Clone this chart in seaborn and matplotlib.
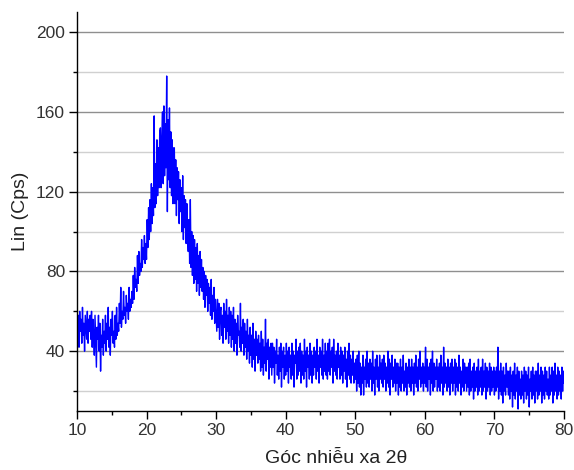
import numpy as np
import pandas as pd
import matplotlib
matplotlib.use("Agg")
import matplotlib.pyplot as plt
import seaborn as sns
from matplotlib.ticker import MultipleLocator

# 2-theta from 10 to 80 in 0.1 degree steps (701 points)
two_theta_start = 10.0
two_theta_step = 0.1

intensity = [
    70, 48, 58, 42, 60, 50, 56, 44, 62, 48,   54, 40, 58, 52, 46, 60, 44, 56, 50, 58,
    46, 60, 42, 56, 48, 38, 58, 44, 32, 52,   46, 58, 40, 54, 30, 48, 42, 56, 38, 50,
    44, 58, 40, 54, 46, 62, 42, 52, 38, 56,   48, 60, 44, 50, 42, 58, 46, 62, 48, 54,
    50, 64, 54, 72, 52, 60, 56, 70, 58, 62,   54, 68, 60, 64, 56, 72, 60, 66, 62, 70,
    64, 78, 66, 82, 72, 76, 70, 88, 74, 90,   78, 84, 80, 96, 82, 92, 86, 98, 84, 94,
    86, 106, 92, 112, 96, 116, 100, 124, 104, 122,   108, 158, 112, 134, 114, 146, 118, 142, 122, 150,
    152, 122, 146, 160, 124, 163, 128, 154, 132, 178,   110, 156, 126, 162, 122, 150, 118, 146, 114, 142,
    142, 114, 136, 108, 132, 116, 130, 104, 126, 110,   122, 100, 128, 96, 118, 102, 116, 94, 114, 98,
    90, 106, 84, 116, 82, 100, 78, 98, 74, 96,   76, 92, 70, 94, 74, 88, 68, 90, 72, 86,
    70, 82, 66, 80, 62, 78, 68, 76, 60, 74,   64, 72, 58, 76, 56, 68, 60, 72, 54, 66,
    58, 50, 66, 52, 64, 46, 60, 62, 48, 58,   44, 64, 52, 60, 46, 66, 50, 58, 44, 62,
    48, 60, 42, 58, 46, 62, 40, 56, 44, 54,   38, 58, 48, 50, 42, 64, 40, 52, 44, 56,
    38, 54, 42, 50, 36, 56, 40, 48, 34, 52,   38, 48, 32, 54, 36, 46, 30, 50, 38, 46,
    34, 48, 36, 44, 30, 50, 32, 46, 28, 42,   34, 56, 30, 44, 36, 46, 26, 42, 32, 44,
    28, 44, 32, 42, 24, 40, 34, 46, 28, 38,   26, 42, 30, 44, 22, 40, 32, 42, 26, 38,
    28, 44, 30, 40, 24, 42, 32, 38, 26, 44,   28, 40, 22, 38, 34, 46, 26, 40, 28, 42,
    30, 44, 24, 40, 28, 38, 26, 46, 30, 40,   22, 42, 32, 38, 26, 44, 28, 40, 24, 38,
    28, 42, 32, 40, 26, 46, 30, 38, 24, 42,   32, 40, 28, 46, 26, 38, 30, 44, 28, 40,
    26, 44, 30, 46, 28, 40, 32, 42, 24, 46,   30, 38, 28, 40, 26, 44, 32, 38, 26, 42,
    28, 40, 24, 38, 30, 42, 26, 36, 22, 40,   28, 44, 26, 38, 24, 36, 28, 40, 24, 34,
    26, 36, 20, 38, 24, 40, 22, 34, 18, 32,   24, 38, 18, 32, 26, 36, 22, 40, 24, 34,
    22, 36, 26, 34, 20, 40, 24, 32, 18, 36,   26, 38, 22, 32, 20, 38, 26, 34, 24, 36,
    22, 38, 26, 34, 20, 32, 24, 40, 22, 36,   18, 34, 26, 38, 22, 32, 24, 36, 20, 34,
    24, 34, 18, 32, 22, 36, 20, 32, 24, 38,   20, 30, 22, 34, 18, 32, 24, 36, 22, 32,
    20, 36, 24, 32, 18, 34, 24, 38, 22, 32,   20, 36, 26, 40, 22, 32, 24, 34, 20, 32,
    24, 42, 22, 36, 20, 32, 26, 34, 18, 36,   24, 40, 20, 34, 22, 32, 26, 36, 20, 32,
    22, 34, 20, 38, 24, 32, 18, 42, 22, 34,   24, 32, 20, 36, 22, 32, 18, 34, 24, 36,
    20, 32, 24, 36, 18, 34, 22, 32, 20, 38,   24, 32, 18, 30, 22, 36, 20, 34, 24, 32,
    20, 32, 22, 34, 18, 36, 20, 30, 22, 32,   16, 34, 20, 30, 22, 32, 18, 36, 20, 30,
    22, 32, 18, 36, 20, 30, 22, 34, 16, 32,   20, 30, 22, 34, 18, 32, 20, 30, 22, 32,
    18, 30, 20, 32, 22, 42, 16, 30, 20, 34,   18, 30, 14, 32, 20, 28, 18, 34, 22, 30,
    18, 30, 16, 32, 20, 28, 12, 30, 18, 34,   16, 28, 20, 32, 11, 30, 18, 26, 16, 30,
    18, 28, 14, 32, 20, 30, 16, 28, 18, 32,   12, 26, 20, 30, 16, 32, 18, 28, 14, 30,
    20, 30, 16, 34, 18, 28, 20, 32, 14, 30,   18, 28, 16, 32, 20, 30, 18, 26, 16, 32,
    18, 28, 20, 32, 14, 30, 18, 34, 20, 28,   16, 32, 18, 30, 20, 28, 16, 32, 20, 30,
    24,
]

x_ticks = [10, 20, 30, 40, 50, 60, 70, 80]
y_ticks = [40, 80, 120, 160, 200]
x_label = "Góc nhiễu xa 2θ"
y_label = "Lin (Cps)"

two_theta = [round(two_theta_start + i * two_theta_step, 2) for i in range(len(intensity))]
df = pd.DataFrame({"two_theta": two_theta, "intensity": intensity})

sns.set_style("white")
plt.rcParams["font.family"] = ["Liberation Sans", "DejaVu Sans"]

fig = plt.figure(figsize=(5.74, 4.70), dpi=100)
ax = fig.add_axes([0.134, 0.1255, 0.8486, 0.8485])

sns.lineplot(data=df, x="two_theta", y="intensity", ax=ax, color="#0000FF",
             linewidth=1.0, estimator=None, sort=False)

ax.set_xlim(10, 80)
ax.set_ylim(10, 210)
ax.set_xticks(x_ticks)
ax.set_yticks(y_ticks)
ax.xaxis.set_minor_locator(MultipleLocator(5))
ax.yaxis.set_minor_locator(MultipleLocator(20))

ax.grid(True, axis="y", which="major", color="#8f8f8f", linewidth=1.0)
ax.grid(True, axis="y", which="minor", color="#d0d0d0", linewidth=1.0)
ax.grid(False, axis="x", which="both")
ax.set_axisbelow(True)

for s in ["top", "right"]:
    ax.spines[s].set_visible(False)
for s in ["left", "bottom"]:
    ax.spines[s].set_color("black")
    ax.spines[s].set_linewidth(1.0)

ax.tick_params(axis="both", which="major", direction="out", length=5.5, width=1,
               color="black", labelsize=12.5, labelcolor="#333333", pad=3,
               bottom=True, left=True)
ax.tick_params(axis="both", which="minor", direction="out", length=3, width=1,
               color="black", bottom=True, left=True)

ax.set_xlabel(x_label, fontsize=14, color="#222222")
ax.xaxis.set_label_coords(0.532, -0.098)
ax.set_ylabel(y_label, fontsize=14, color="#222222", labelpad=5)

fig.savefig("out.png", dpi=100)
